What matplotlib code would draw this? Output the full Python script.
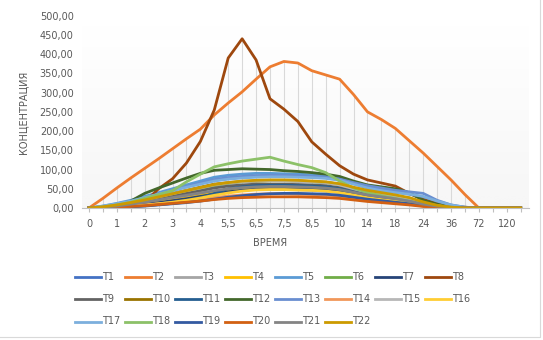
import matplotlib.pyplot as plt
import numpy as np
from matplotlib.lines import Line2D

# time points (hours) - every second label shown on the axis
times = ['0', '0,5', '1', '1,5', '2', '2,5', '3', '3,5', '4', '5', '5,5', '6', '6,5', '7', '7,5', '8',
         '8,5', '9', '10', '12', '14', '16', '18', '20', '24', '30', '36', '48', '72', '96', '120', '144']

T1 = [0, 1, 2, 4, 6, 9, 12, 16, 22, 32, 45, 52, 55, 56, 56, 55, 54, 52, 48, 40, 32, 27, 22, 17, 10, 5, 2, 0, 0, 0, 0, 0]
T2 = [0, 25, 52, 78, 103, 128, 154, 180, 205, 242, 273, 302, 335, 367, 381, 377, 357, 346, 335, 295, 250, 230, 207, 175, 143, 108, 73, 35, 0, 0, 0, 0]
T3 = [0, 2, 5, 9, 14, 19, 24, 30, 35, 40, 44, 47, 48, 49, 48, 47, 46, 44, 40, 34, 27, 22, 18, 14, 8, 4, 1, 0, 0, 0, 0, 0]
T4 = [0, 1, 3, 6, 10, 15, 20, 26, 32, 40, 46, 51, 54, 55, 55, 54, 52, 50, 45, 38, 30, 25, 20, 15, 8, 4, 1, 0, 0, 0, 0, 0]
T5 = [0, 5, 12, 20, 30, 40, 50, 60, 70, 80, 85, 88, 90, 90, 89, 88, 86, 84, 78, 65, 55, 48, 42, 36, 28, 15, 6, 1, 0, 0, 0, 0]
T6 = [0, 2, 6, 11, 18, 26, 34, 42, 50, 58, 64, 68, 70, 71, 71, 70, 68, 66, 60, 50, 42, 35, 30, 22, 12, 5, 2, 0, 0, 0, 0, 0]
T7 = [0, 1, 3, 6, 10, 14, 19, 24, 30, 36, 42, 46, 49, 50, 50, 49, 48, 46, 42, 35, 28, 23, 18, 13, 7, 3, 1, 0, 0, 0, 0, 0]
T8 = [0, 1, 3, 6, 15, 50, 76, 117, 173, 255, 390, 440, 385, 284, 257, 225, 172, 140, 110, 88, 73, 65, 57, 38, 22, 12, 6, 2, 0, 0, 0, 0]
T9 = [0, 2, 6, 11, 17, 24, 31, 38, 45, 52, 57, 60, 62, 62, 62, 61, 60, 58, 53, 45, 37, 31, 26, 20, 12, 5, 2, 0, 0, 0, 0, 0]
T10 = [0, 3, 8, 14, 22, 30, 38, 46, 54, 62, 66, 69, 70, 71, 71, 70, 69, 67, 62, 52, 44, 38, 32, 25, 15, 7, 2, 0, 0, 0, 0, 0]
T11 = [0, 1, 2, 4, 7, 11, 15, 20, 27, 38, 50, 55, 58, 59, 59, 58, 57, 55, 50, 42, 34, 28, 23, 17, 9, 4, 1, 0, 0, 0, 0, 0]
T12 = [0, 3, 8, 18, 38, 52, 65, 78, 90, 98, 100, 102, 101, 100, 97, 95, 92, 88, 82, 70, 60, 55, 50, 40, 20, 10, 4, 1, 0, 0, 0, 0]
T13 = [0, 4, 10, 17, 26, 36, 46, 56, 65, 74, 79, 82, 84, 85, 85, 84, 82, 80, 75, 66, 58, 52, 46, 42, 38, 20, 8, 2, 0, 0, 0, 0]
T14 = [0, 1, 3, 5, 8, 11, 14, 18, 22, 27, 31, 34, 36, 37, 37, 36, 35, 34, 31, 26, 21, 17, 14, 10, 5, 2, 1, 0, 0, 0, 0, 0]
T15 = [0, 3, 8, 14, 21, 29, 37, 45, 52, 60, 65, 68, 70, 71, 70, 69, 68, 66, 60, 50, 41, 35, 29, 22, 13, 6, 2, 0, 0, 0, 0, 0]
T16 = [0, 1, 2, 4, 7, 11, 15, 20, 26, 33, 39, 44, 47, 48, 48, 47, 46, 44, 40, 34, 27, 22, 18, 14, 8, 4, 1, 0, 0, 0, 0, 0]
T17 = [0, 5, 11, 18, 27, 36, 45, 54, 62, 70, 75, 78, 80, 81, 81, 80, 79, 77, 72, 62, 52, 45, 40, 36, 30, 18, 8, 2, 0, 0, 0, 0]
T18 = [0, 3, 8, 15, 25, 35, 45, 68, 88, 107, 115, 122, 127, 132, 122, 113, 105, 92, 70, 52, 40, 32, 25, 18, 10, 5, 2, 0, 0, 0, 0, 0]
T19 = [0, 1, 2, 3, 5, 8, 11, 14, 18, 23, 28, 32, 35, 37, 38, 38, 37, 36, 33, 28, 23, 19, 15, 11, 6, 3, 1, 0, 0, 0, 0, 0]
T20 = [0, 1, 2, 4, 6, 9, 12, 15, 18, 22, 25, 27, 28, 29, 29, 29, 28, 27, 25, 21, 17, 14, 11, 8, 4, 2, 1, 0, 0, 0, 0, 0]
T21 = [0, 2, 5, 10, 15, 21, 27, 33, 39, 45, 50, 53, 55, 56, 56, 55, 54, 52, 48, 41, 34, 29, 24, 18, 10, 5, 2, 0, 0, 0, 0, 0]
T22 = [0, 3, 8, 14, 21, 29, 37, 45, 53, 61, 66, 70, 72, 73, 73, 72, 70, 68, 63, 54, 46, 40, 34, 27, 16, 7, 2, 0, 0, 0, 0, 0]

series = [T1, T2, T3, T4, T5, T6, T7, T8, T9, T10, T11, T12, T13, T14, T15, T16, T17, T18, T19, T20, T21, T22]
names = ['T%d' % (i + 1) for i in range(len(series))]

# Excel office palette
colors = ['#4472C4', '#ED7D31', '#A5A5A5', '#FFC000', '#5B9BD5', '#70AD47', '#264478', '#9E480E',
          '#636363', '#997300', '#255E91', '#43682B', '#698ED0', '#F1975A', '#B7B7B7', '#FFCD33',
          '#7CAFDD', '#8CC168', '#335AA1', '#D26012', '#848484', '#CC9A00']

W, H = 543, 340
fig = plt.figure(figsize=(W / 100, H / 100), dpi=100)
ax = fig.add_axes([82 / W, 1 - 208 / H, 447 / W, 192.3 / H])

x = np.arange(len(times))
ax.set_xlim(-0.5, 31.6)
ax.set_ylim(0, 500)

# gradient background of the plot area: white on top, light grey at the bottom
grad = np.linspace(0, 1, 100).reshape(-1, 1)
ax.imshow(grad, extent=[-0.5, 31.6, 0, 500], aspect='auto', cmap='Greys',
          vmin=0, vmax=14, zorder=0, origin='upper')

# drop lines from the highest point down to the axis
top = np.max(np.array(series), axis=0)
ax.vlines(x, 0, top, color='#D9D9D9', lw=0.8, zorder=1)

for vals, c in zip(series, colors):
    ax.plot(x, vals, color=c, lw=2, zorder=2, solid_joinstyle='round')

for s in ['top', 'right', 'left']:
    ax.spines[s].set_visible(False)
ax.spines['bottom'].set_color('#BFBFBF')
ax.spines['bottom'].set_linewidth(0.8)

ax.set_xticks(x)
ax.set_xticklabels([t if i % 2 == 0 else '' for i, t in enumerate(times)])
ax.tick_params(axis='x', length=3, color='#BFBFBF', labelsize=7, labelcolor='#595959', pad=5)
yt = np.arange(0, 501, 50)
ax.set_yticks(yt)
ax.set_yticklabels(['%d,00' % v for v in yt])
ax.tick_params(axis='y', length=0, labelsize=7, labelcolor='#595959', pad=6)

fig.text(270 / W, 1 - 243 / H, 'ВРЕМЯ', ha='center', va='center', fontsize=7, color='#595959')
fig.text(23 / W, 1 - 112 / H, 'КОНЦЕНТРАЦИЯ', ha='center', va='center', rotation=90,
         fontsize=7, color='#595959')

# legend, 8 per row
for i, (n, c) in enumerate(zip(names, colors)):
    row, col = divmod(i, 8)
    lx = 75 + 50 * col
    ly = 1 - (276.5 + 22.5 * row) / H
    fig.add_artist(Line2D([lx / W, (lx + 26) / W], [ly, ly], color=c, lw=2))
    fig.text((lx + 27) / W, ly, n, ha='left', va='center', fontsize=7, color='#595959')

# chart border
fig.add_artist(Line2D([540 / W, 540 / W, 0], [1, 1 - 337 / H, 1 - 337 / H], color='#D9D9D9', lw=0.8))

fig.savefig('out.png', dpi=100)
